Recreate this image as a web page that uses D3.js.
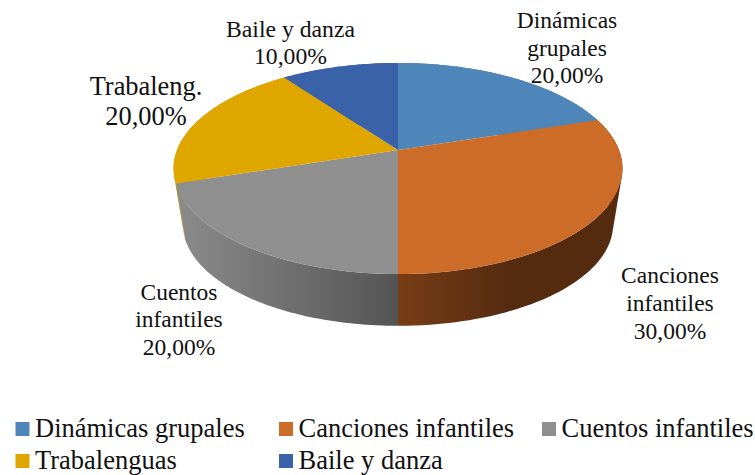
<!DOCTYPE html>
<html><head><meta charset="utf-8">
<script src="https://cdn.jsdelivr.net/npm/d3@7"></script>
<style>html,body{margin:0;padding:0;background:#fff}svg{display:block}text{font-family:"Liberation Serif",serif;fill:#111}</style>
</head><body><div id="c"></div>
<script>
const categories = ["Dinámicas grupales","Canciones infantiles","Cuentos infantiles","Trabalenguas","Baile y danza"];
const values = [20,30,20,20,10];
const colors = ["#4e86b9","#cd6b28","#8f8f8f","#e0a600","#3a62a9"];
const labelLines = [["Dinámicas","grupales","20,00%"],["Canciones","infantiles","30,00%"],["Cuentos","infantiles","20,00%"],["Trabaleng.","20,00%"],["Baile y danza","10,00%"]];
const sideStops = [null,["#783d16","#552b10"],["#8c8c8c","#545454"],null,null];

const W=755,H=475;
const svg=d3.select("#c").append("svg").attr("width",W).attr("height",H);
const defs=svg.append("defs");
const cx=398, cy=150, ax=221, by=102.3, k=0.1754, depthY=57, shrink=0.958;
function project(angle,level){
  const u=Math.sin(angle), v=-Math.cos(angle), d=1-k*v, s=level?shrink:1;
  return [cx+s*ax*u/d, cy+(level?depthY:0)+s*by*v/d];
}
const arcs=d3.pie().sort(null)(values);
const line=d3.line();
const sample=(a,b,level)=>d3.range(0,61).map(i=>project(a+(b-a)*i/60,level));

// sides, back to front
const sideOrder=[0,4,3,1,2];
sideOrder.forEach(i=>{
  const a=arcs[i], stops=sideStops[i];
  let fill=colors[i];
  if(stops){
    const id="g"+i;
    const xs=sample(a.startAngle,a.endAngle,0).map(p=>p[0]);
    const g=defs.append("linearGradient").attr("id",id).attr("gradientUnits","userSpaceOnUse")
      .attr("x1",i===2?d3.min(xs):cx).attr("x2",i===2?cx:d3.max(xs)).attr("y1",0).attr("y2",0);
    g.append("stop").attr("offset",0).attr("stop-color",stops[0]);
    g.append("stop").attr("offset",i===1?0.5:1).attr("stop-color",stops[1]);
    fill="url(#"+id+")";
  }
  const top=sample(a.startAngle,a.endAngle,0), bot=sample(a.startAngle,a.endAngle,1);
  const d=d3.range(60).map(j=>{
    const q=[top[j],top[j+1],bot[j+1],bot[j]];
    if(d3.polygonArea(q)<0) q.reverse();
    return line(q)+"Z";
  }).join("");
  svg.append("path").attr("d",d).attr("fill",fill);
});
// tops
arcs.forEach((a,i)=>{
  const pts=[[cx,cy]].concat(sample(a.startAngle,a.endAngle,0));
  svg.append("path").attr("d",line(pts)+"Z").attr("fill",colors[i]);
});
// data labels
const labelPos=[[567,28,23.5,27.5],[670,283,23.5,28],[179,299.5,23.5,27.5],[146,95,26.4,30],[290.5,37,23.7,27]];
labelLines.forEach((ls,i)=>{
  const [x,y,fs,lh]=labelPos[i];
  ls.forEach((t,j)=>svg.append("text").attr("x",x).attr("y",y+j*lh).attr("text-anchor","middle").attr("font-size",fs).text(t));
});
// legend
const legX=d3.scaleOrdinal().domain([0,1,2]).range([15.5,279,542]);
const legY=d3.scaleOrdinal().domain([0,1]).range([422,454]);
categories.forEach((c,i)=>{
  const col=i%3,row=Math.floor(i/3);
  svg.append("rect").attr("x",legX(col)).attr("y",legY(row)).attr("width",14).attr("height",14).attr("fill",colors[i]);
  svg.append("text").attr("x",legX(col)+19.5).attr("y",legY(row)+15.3).attr("font-size",26.5).text(c);
});
</script></body></html>
